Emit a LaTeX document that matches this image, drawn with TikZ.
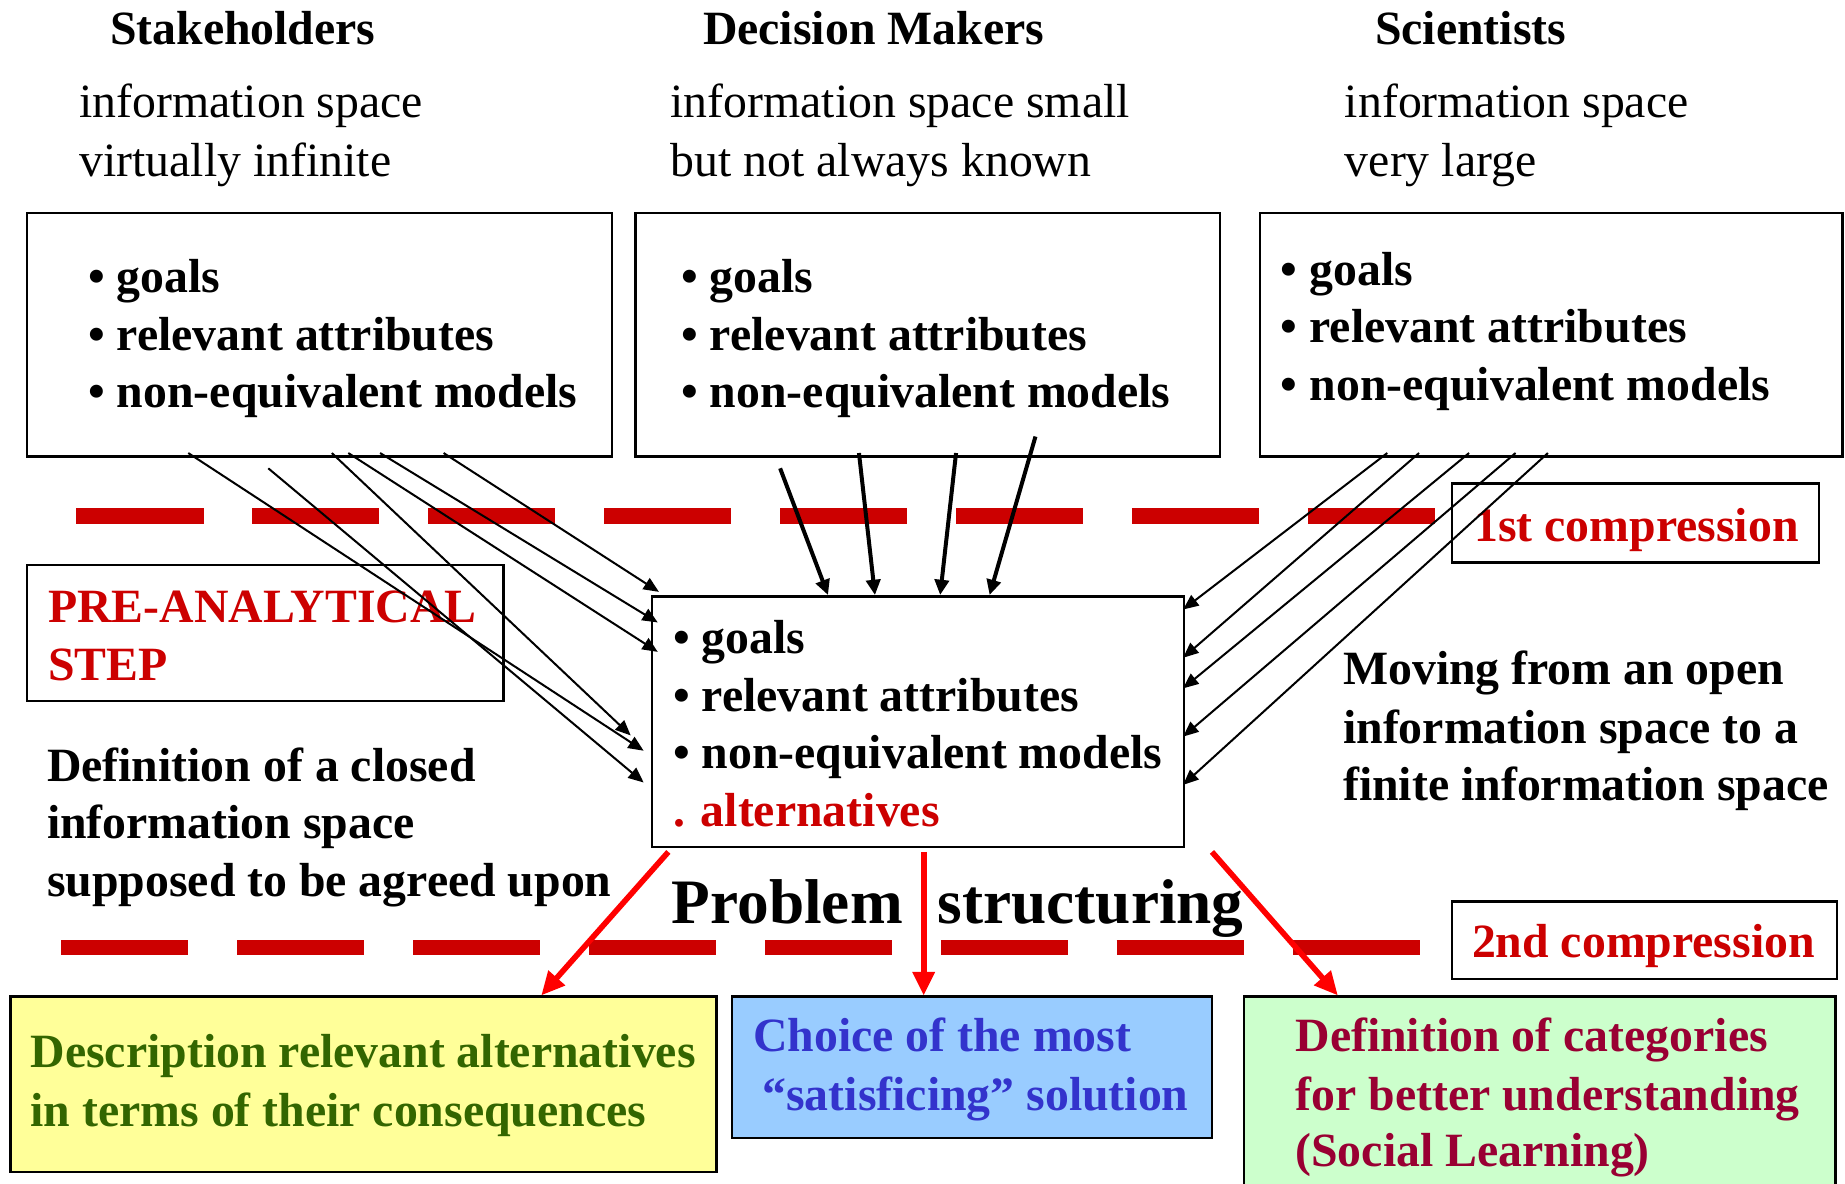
\documentclass[tikz,border=0pt]{standalone}
\usepackage{fontspec}
\setmainfont{Liberation Serif}
\usetikzlibrary{arrows.meta,fit}
\definecolor{dred}{HTML}{CC0000}
\definecolor{brred}{HTML}{FF0000}
\definecolor{tgreen}{HTML}{336600}
\definecolor{tblue}{HTML}{3333CC}
\definecolor{tmaroon}{HTML}{990033}
\definecolor{fyellow}{HTML}{FFFF99}
\definecolor{fblue}{HTML}{99CCFF}
\definecolor{fgreen}{HTML}{CCFFCC}
\begin{document}
\begin{tikzpicture}[x=0.5pt,y=-0.5pt,
  every node/.style={inner sep=0pt, outer sep=0pt},
  txt/.style={anchor=base west, font=\fontsize{20.3}{24.5}\selectfont},
  btxt/.style={anchor=base west, font=\fontsize{20.3}{24.5}\selectfont\bfseries},
  frame/.style={draw=black, line width=1pt},
  cutline/.style={draw=dred, line width=6.5pt, dash pattern=on 54pt off 20.75pt},
  thinarrow/.style={draw=black, line width=0.85pt, -{Triangle[length=6.5pt,width=5.5pt]}},
  thickarrow/.style={draw=black, line width=1.7pt, -{Triangle[length=6.5pt,width=6pt]}},
  redarrow/.style={draw=brred, line width=2.4pt, -{Triangle[length=10pt,width=9pt]}},
]
\useasboundingbox (0,0) rectangle (1568,1006.2);

% headings
\node[btxt] (hS) at (93.6,38) {Stakeholders};
\node[btxt] (hD) at (597.5,38) {Decision Makers};
\node[btxt] (hC) at (1168.6,38) {Scientists};
\node[txt] (sA1) at (67.5,99.6) {information space};
\node[txt] (sA2) at (67.5,150) {virtually infinite};
\node[txt] (sB1) at (570,99.6) {information space small};
\node[txt] (sB2) at (570,150) {but not always known};
\node[txt] (sC1) at (1143,99.6) {information space};
\node[txt] (sC2) at (1143,150) {very large};

% top boxes
\node[frame, fit={(23,181) (520,388)}] (boxA) {};
\node[frame, fit={(540,181) (1037,388)}] (boxB) {};
\node[frame, fit={(1071,181) (1566,388)}] (boxC) {};
\node[btxt] (a1) at (75,248.5) {• goals};
\node[btxt] (a2) at (75,297.5) {• relevant attributes};
\node[btxt] (a3) at (75,346.5) {• non-equivalent models};
\node[btxt] (b1) at (579,248.5) {• goals};
\node[btxt] (b2) at (579,297.5) {• relevant attributes};
\node[btxt] (b3) at (579,346.5) {• non-equivalent models};
\node[btxt] (c1) at (1088.6,242.5) {• goals};
\node[btxt] (c2) at (1088.6,291.5) {• relevant attributes};
\node[btxt] (c3) at (1088.6,340.5) {• non-equivalent models};

% compression labels
\node[frame, fit={(1234,411) (1546,478)}] (first) {};
\node[btxt, text=dred] (firstT) at (1253,460) {1st compression};
\node[frame, fit={(1234,766) (1561,832)}] (second) {};
\node[btxt, text=dred] (secondT) at (1251,813.5) {2nd compression};

% pre-analytical step
\node[frame, fit={(23,480) (428,596)}] (pre) {};
\node[btxt, text=dred] (pre1) at (41,529) {PRE-ANALYTICAL};
\node[btxt, text=dred] (pre2) at (41,578) {STEP};

% center box
\node[frame, fit={(554,507) (1006,720)}] (center) {};
\node[btxt] (m1) at (572,555.5) {• goals};
\node[btxt] (m2) at (572,604.5) {• relevant attributes};
\node[btxt] (m3) at (572,653.5) {• non-equivalent models};
\node[btxt, text=dred] (m4) at (572,702.5) {. alternatives};

% side texts
\node[btxt] (d1) at (40,664) {Definition of a closed};
\node[btxt] (d2) at (40,713) {information space};
\node[btxt] (d3) at (40,762) {supposed to be agreed upon};
\node[btxt] (v1) at (1141.5,582) {Moving from an open};
\node[btxt] (v2) at (1141.5,631.5) {information space to a};
\node[btxt] (v3) at (1141.5,680) {finite information space};
\node[anchor=base west, font=\fontsize{26.9}{32}\selectfont\bfseries] (ps) at (571,785) {Problem\hspace{14.8pt}structuring};

% bottom boxes
\node[frame, fill=fyellow, fit={(9,847) (609,996)}] (yel) {};
\node[btxt, text=tgreen] (y1) at (26,907.5) {Description relevant alternatives};
\node[btxt, text=tgreen] (y2) at (26,957) {in terms of their consequences};
\node[frame, fill=fblue, fit={(622,847) (1030,967)}] (blu) {};
\node[btxt, text=tblue] (u1) at (640,893.5) {Choice of the most};
\node[btxt, text=tblue] (u2) at (648,943.5) {“satisficing” solution};
\node[frame, fill=fgreen, fit={(1057,847) (1560,1030)}] (grn) {};
\node[btxt, text=tmaroon] (g1) at (1101,893.5) {Definition of categories};
\node[btxt, text=tmaroon] (g2) at (1101,943.5) {for better understanding};
\node[btxt, text=tmaroon] (g3) at (1101,991) {(Social Learning)};

% dashed compression lines
\coordinate (L1a) at (65,438.5);
\coordinate (L1b) at (1220,438.5);
\coordinate (L2a) at (52,805);
\coordinate (L2b) at (1207,805);
\draw[cutline] (L1a) -- (L1b);
\draw[cutline] (L2a) -- (L2b);

% stakeholder arrows
\coordinate (sa1) at (377,385); \coordinate (ea1) at (560,503);
\coordinate (sa2) at (323,385); \coordinate (ea2) at (559,529);
\coordinate (sa3) at (296,385); \coordinate (ea3) at (559,554);
\coordinate (sa4) at (282,385); \coordinate (ea4) at (536,625);
\coordinate (sa5) at (160,385); \coordinate (ea5) at (547,638);
\coordinate (sa6) at (228,398); \coordinate (ea6) at (547,665);
\foreach \i in {1,...,6} \draw[thinarrow] (sa\i) -- (ea\i);

% decision maker arrows
\coordinate (sb1) at (663,398); \coordinate (eb1) at (703.7,505.7);
\coordinate (sb2) at (730,385); \coordinate (eb2) at (743.6,505.7);
\coordinate (sb3) at (812.5,385); \coordinate (eb3) at (799,505.7);
\coordinate (sb4) at (880,371); \coordinate (eb4) at (841,505.7);
\foreach \i in {1,...,4} \draw[thickarrow] (sb\i) -- (eb\i);

% scientist arrows
\coordinate (sc1) at (1179,385); \coordinate (ec1) at (1005.5,518);
\coordinate (sc2) at (1206,385); \coordinate (ec2) at (1005.5,559);
\coordinate (sc3) at (1248.5,385); \coordinate (ec3) at (1005.5,585);
\coordinate (sc4) at (1288,385); \coordinate (ec4) at (1005.5,626);
\coordinate (sc5) at (1315.5,385); \coordinate (ec5) at (1005.5,667);
\foreach \i in {1,...,5} \draw[thinarrow] (sc\i) -- (ec\i);

% red arrows to outcomes
\coordinate (r1) at (568,724); \coordinate (r2) at (785,724); \coordinate (r3) at (1030,724);
\coordinate (t1) at (460,846); \coordinate (t2) at (785,846); \coordinate (t3) at (1137,846);
\draw[redarrow] (r1) -- (t1);
\draw[redarrow] (r2) -- (t2);
\draw[redarrow] (r3) -- (t3);
\end{tikzpicture}
\end{document}
